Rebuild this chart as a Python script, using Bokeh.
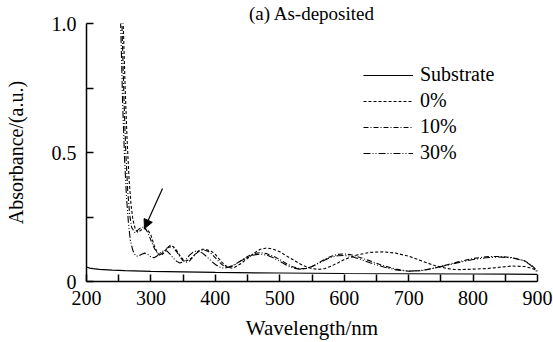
from bokeh.plotting import figure
from bokeh.models import (FixedTicker, Legend, LegendItem, Arrow,
                          NormalHead, Range1d)
from bokeh.embed import file_html
from bokeh.resources import INLINE

# ---------------- data ----------------
sub_x = [200, 205, 210, 220, 240, 260, 300, 350, 400, 500, 600, 700, 800, 900]
sub_y = [0.056, 0.052, 0.050, 0.047, 0.044, 0.042, 0.039, 0.037, 0.035,
         0.033, 0.031, 0.030, 0.029, 0.028]

f0_x = [254, 257, 260, 263, 266, 269, 272, 276, 280, 285, 290, 295, 300, 305,
        310, 315, 320, 325, 330, 335, 340, 345, 350, 355, 360, 365, 370, 375,
        380, 385, 390, 395, 400, 405, 410, 415, 420, 425, 430, 440, 450, 460,
        470, 480, 490, 500, 510, 520, 530, 540, 550, 560, 570, 580, 590, 600,
        620, 640, 660, 680, 700, 720, 740, 760, 770, 780, 800, 820, 840, 860,
        880, 890, 900]
f0_y = [1.3, 1.0, 0.75, 0.55, 0.40, 0.30, 0.24, 0.20, 0.19, 0.20, 0.205, 0.20,
        0.18, 0.14, 0.11, 0.10, 0.11, 0.13, 0.14, 0.135, 0.12, 0.10, 0.085,
        0.08, 0.085, 0.095, 0.11, 0.12, 0.125, 0.125, 0.12, 0.115, 0.105, 0.09,
        0.075, 0.063, 0.055, 0.052, 0.055, 0.07, 0.09, 0.11, 0.125, 0.13,
        0.125, 0.115, 0.10, 0.085, 0.07, 0.058, 0.05, 0.047, 0.05, 0.06, 0.072,
        0.085, 0.103, 0.113, 0.115, 0.11, 0.098, 0.08, 0.062, 0.05, 0.047,
        0.046, 0.048, 0.05, 0.055, 0.06, 0.058, 0.052, 0.042]

f10_x = [252, 255, 258, 261, 264, 267, 270, 275, 280, 285, 290, 295, 300, 305,
         310, 315, 320, 325, 330, 335, 340, 345, 350, 355, 360, 365, 370, 375,
         380, 385, 390, 395, 400, 405, 410, 415, 420, 425, 430, 440, 450, 460,
         470, 480, 490, 500, 510, 520, 530, 540, 550, 560, 570, 580, 590, 600,
         610, 620, 640, 660, 680, 700, 720, 740, 760, 780, 800, 820, 840, 860,
         880, 890, 900]
f10_y = [1.3, 1.0, 0.72, 0.50, 0.35, 0.26, 0.21, 0.19, 0.20, 0.21, 0.21, 0.19,
         0.16, 0.13, 0.11, 0.105, 0.115, 0.13, 0.135, 0.13, 0.115, 0.095, 0.08,
         0.075, 0.08, 0.095, 0.108, 0.118, 0.122, 0.12, 0.115, 0.105, 0.092,
         0.078, 0.066, 0.058, 0.055, 0.058, 0.065, 0.082, 0.097, 0.108, 0.112,
         0.108, 0.098, 0.085, 0.07, 0.057, 0.05, 0.05, 0.058, 0.072, 0.087,
         0.098, 0.105, 0.107, 0.104, 0.097, 0.08, 0.062, 0.048, 0.04, 0.042,
         0.052, 0.065, 0.078, 0.089, 0.096, 0.097, 0.093, 0.08, 0.065, 0.04]

f30_x = [250, 253, 256, 259, 262, 265, 268, 272, 276, 280, 285, 290, 295, 300,
         305, 310, 315, 320, 325, 330, 335, 340, 345, 350, 355, 360, 365, 370,
         375, 380, 385, 390, 395, 400, 405, 410, 415, 420, 430, 440, 450, 460,
         470, 480, 490, 500, 510, 520, 530, 540, 550, 560, 570, 580, 590, 600,
         610, 620, 640, 660, 680, 700, 720, 740, 760, 780, 800, 820, 840, 860,
         880, 890, 900]
f30_y = [1.3, 1.0, 0.70, 0.48, 0.33, 0.23, 0.16, 0.12, 0.10, 0.098, 0.105,
         0.11, 0.105, 0.095, 0.092, 0.10, 0.112, 0.12, 0.118, 0.105, 0.09,
         0.078, 0.072, 0.076, 0.088, 0.102, 0.113, 0.118, 0.117, 0.11, 0.10,
         0.088, 0.076, 0.066, 0.058, 0.053, 0.052, 0.055, 0.066, 0.08, 0.093,
         0.103, 0.106, 0.102, 0.092, 0.078, 0.064, 0.053, 0.048, 0.05, 0.058,
         0.07, 0.083, 0.094, 0.10, 0.101, 0.098, 0.09, 0.073, 0.057, 0.045,
         0.04, 0.043, 0.052, 0.063, 0.075, 0.085, 0.092, 0.095, 0.092, 0.08,
         0.062, 0.035]

series_names = ["Substrate", "0%", "10%", "30%"]
x_ticks = [200, 300, 400, 500, 600, 700, 800, 900]
x_minor = [250, 350, 450, 550, 650, 750, 850]
y_ticks = [0, 0.5, 1.0]
y_minor = [0.25, 0.75]
y_tick_labels = ["0", "0.5", "1.0"]

title_text = "(a) As-deposited"
x_label = "Wavelength/nm"
y_label = "Absorbance/(a.u.)"

# ---------------- figure ----------------
FONT = "'Liberation Serif'"

p = figure(width=553, height=342, output_backend="svg", toolbar_location=None,
           x_range=Range1d(200, 900), y_range=Range1d(0, 1.0),
           min_border_left=86, min_border_right=16, min_border_top=23,
           min_border_bottom=60, title=title_text)
p.outline_line_color = None
p.xgrid.visible = False
p.ygrid.visible = False
p.background_fill_color = "white"
p.border_fill_color = "white"

p.title.align = "center"
p.title.text_font = FONT
p.title.text_font_size = "19px"
p.title.text_font_style = "normal"
p.title.text_color = "black"
p.title.standoff = 0
p.title.offset = 0

for ax in (p.xaxis[0], p.yaxis[0]):
    ax.axis_line_width = 1.5
    ax.axis_line_color = "black"
    ax.major_tick_line_width = 1.5
    ax.minor_tick_line_width = 1.5
    ax.major_tick_line_color = "black"
    ax.minor_tick_line_color = "black"
    ax.major_tick_in = 7
    ax.major_tick_out = 0
    ax.minor_tick_in = 7
    ax.minor_tick_out = 0
    ax.major_label_text_font = FONT
    ax.major_label_text_font_size = "20px"
    ax.major_label_text_color = "black"
    ax.axis_label_text_font = FONT
    ax.axis_label_text_font_size = "20px"
    ax.axis_label_text_font_style = "normal"
    ax.axis_label_text_color = "black"

p.xaxis.ticker = FixedTicker(ticks=x_ticks, minor_ticks=x_minor)
p.yaxis.ticker = FixedTicker(ticks=y_ticks, minor_ticks=y_minor)
p.yaxis.major_label_overrides = {t: s for t, s in zip(y_ticks, y_tick_labels)}
p.xaxis.major_label_standoff = 9
p.yaxis.major_label_standoff = 10
p.xaxis.axis_label = x_label
p.yaxis.axis_label = y_label
p.xaxis.axis_label_standoff = 8
p.yaxis.axis_label_standoff = 22
p.xaxis.axis_label_text_font_size = "21px"

r_sub = p.line(sub_x, sub_y, line_color="black", line_width=1.2)
r0 = p.line(f0_x, f0_y, line_color="black", line_width=1.1, line_dash="3 2")
r10 = p.line(f10_x, f10_y, line_color="black", line_width=1.1,
             line_dash="5 2 1 2")
r30 = p.line(f30_x, f30_y, line_color="black", line_width=1.1,
             line_dash="7 2 1 2 1 2")

legend = Legend(items=[LegendItem(label=n, renderers=[r]) for n, r in
                       zip(series_names, [r_sub, r0, r10, r30])],
                location=(277, 117), orientation="vertical",
                label_text_font=FONT, label_text_font_size="20px",
                label_text_color="black", glyph_width=50, glyph_height=22,
                label_height=22, spacing=3, padding=0, margin=0,
                label_standoff=7, border_line_alpha=0,
                background_fill_alpha=0)
p.add_layout(legend, "center")

# arrow pointing at the shoulder near 290 nm
p.add_layout(Arrow(x_start=318, y_start=0.36, x_end=290, y_end=0.205,
                   line_color="black", line_width=1.2,
                   end=NormalHead(size=9, fill_color="black",
                                  line_color="black", line_width=1)))

open("out.html", "w").write(file_html(p, INLINE))
